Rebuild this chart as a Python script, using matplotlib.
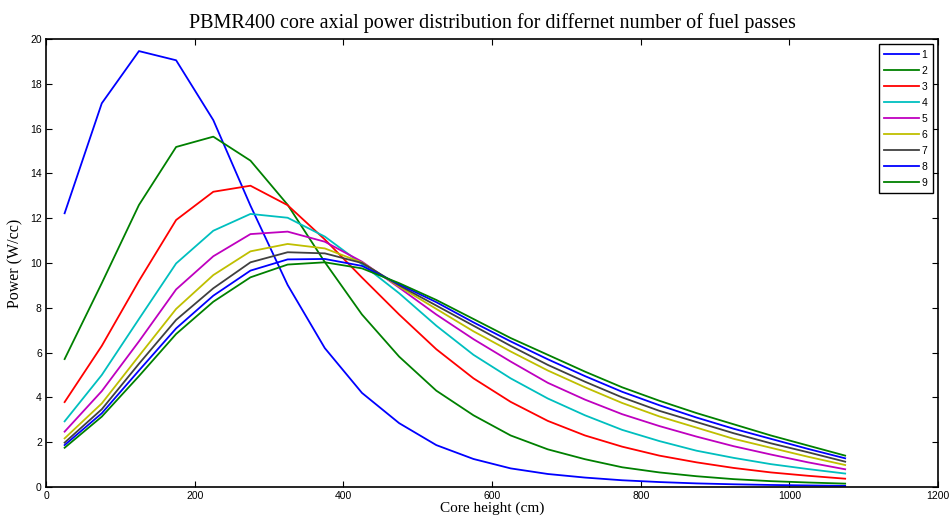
import matplotlib.pyplot as plt

# core height (cm) sample points
height = [25, 75, 125, 175, 225, 275, 325, 375, 425, 475, 525, 575,
          625, 675, 725, 775, 825, 875, 925, 975, 1025, 1075]

pass1 = [12.22, 17.13, 19.46, 19.05, 16.38, 12.56, 9.02, 6.2, 4.2, 2.85, 1.87, 1.25,
         0.83, 0.58, 0.42, 0.3, 0.22, 0.16, 0.12, 0.09, 0.07, 0.05]
pass2 = [5.71, 9.1, 12.59, 15.18, 15.64, 14.57, 12.6, 10.04, 7.7, 5.82, 4.3, 3.2,
         2.3, 1.68, 1.24, 0.88, 0.65, 0.48, 0.35, 0.26, 0.2, 0.15]
pass3 = [3.79, 6.3, 9.2, 11.92, 13.18, 13.45, 12.58, 11.05, 9.35, 7.7, 6.15, 4.85,
         3.8, 2.95, 2.3, 1.8, 1.4, 1.1, 0.85, 0.65, 0.5, 0.37]
pass4 = [2.93, 5.0, 7.5, 9.98, 11.44, 12.19, 12.02, 11.18, 9.95, 8.65, 7.2, 5.9,
         4.85, 3.95, 3.2, 2.55, 2.05, 1.62, 1.3, 1.02, 0.8, 0.6]
pass5 = [2.47, 4.28, 6.5, 8.82, 10.3, 11.29, 11.4, 10.95, 10.06, 8.9, 7.7, 6.6,
         5.6, 4.65, 3.9, 3.25, 2.72, 2.25, 1.82, 1.45, 1.1, 0.79]
pass6 = [2.17, 3.73, 5.85, 7.95, 9.46, 10.52, 10.85, 10.65, 10.02, 8.95, 7.95, 6.95,
         6.05, 5.2, 4.45, 3.75, 3.15, 2.65, 2.15, 1.75, 1.35, 0.98]
pass7 = [1.98, 3.47, 5.5, 7.46, 8.87, 10.03, 10.48, 10.43, 10.0, 9.0, 8.1, 7.2,
         6.3, 5.45, 4.7, 4.0, 3.4, 2.9, 2.4, 1.95, 1.55, 1.13]
pass8 = [1.87, 3.29, 5.2, 7.08, 8.54, 9.66, 10.16, 10.18, 9.87, 9.05, 8.25, 7.35,
         6.5, 5.7, 4.95, 4.25, 3.65, 3.1, 2.6, 2.15, 1.7, 1.28]
pass9 = [1.75, 3.14, 4.95, 6.83, 8.27, 9.36, 9.93, 10.03, 9.76, 9.1, 8.35, 7.5,
         6.65, 5.9, 5.15, 4.45, 3.85, 3.3, 2.8, 2.3, 1.85, 1.4]

labels = ["1", "2", "3", "4", "5", "6", "7", "8", "9"]
colors = ["#0000ff", "#008000", "#ff0000", "#00bfbf", "#bf00bf",
          "#bfbf00", "#404040", "#0000ff", "#008000"]

x_ticks = [0, 200, 400, 600, 800, 1000, 1200]
y_ticks = [0, 2, 4, 6, 8, 10, 12, 14, 16, 18, 20]


def main():
    plt.rcParams.update({"font.family": "Liberation Sans"})
    fig = plt.figure(figsize=(9.49, 5.2), dpi=100)
    ax = fig.add_axes([0.0485, 0.0635, 0.94, 0.8615])

    series = [pass1, pass2, pass3, pass4, pass5, pass6, pass7, pass8, pass9]
    for vals, lab, col in zip(series, labels, colors):
        ax.plot(height, vals, color=col, linewidth=1.3, label=lab)

    ax.set_xlim(0, 1200)
    ax.set_ylim(0, 20)
    ax.set_xticks(x_ticks)
    ax.set_yticks(y_ticks)
    ax.tick_params(direction="in", top=True, right=True, length=4,
                   width=0.8, labelsize=7.5, pad=3)
    for sp in ax.spines.values():
        sp.set_linewidth(1.2)

    serif = "Liberation Serif"
    ax.set_title("PBMR400 core axial power distribution for differnet number of fuel passes",
                 fontsize=14.5, family=serif, pad=8)
    ax.set_xlabel("Core height (cm)", fontsize=11, family=serif, labelpad=0)
    ax.set_ylabel("Power (W/cc)", fontsize=11.5, family=serif, labelpad=5)

    leg = ax.legend(loc="upper right", bbox_to_anchor=(0.994, 0.988), borderaxespad=0,
                    fontsize=7.5, handlelength=3.3, handletextpad=0.3,
                    labelspacing=0.58, borderpad=0.5, fancybox=False, framealpha=1)
    leg.get_frame().set_edgecolor("black")
    leg.get_frame().set_linewidth(1.0)

    fig.savefig("out.png", dpi=100)
    plt.close(fig)


if __name__ == "__main__":
    main()
